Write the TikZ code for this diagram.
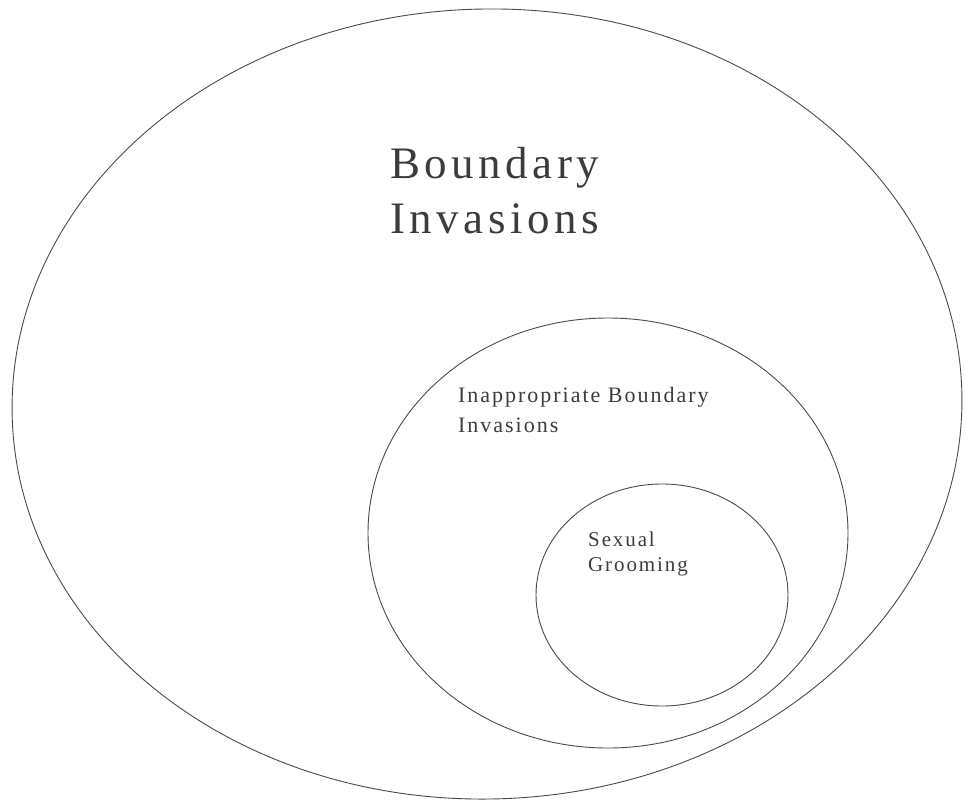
\documentclass[tikz,border=0pt]{standalone}
\usepackage{fontspec}
\setmainfont{Liberation Serif}
\newfontfamily\bigfont[LetterSpace=10]{Liberation Serif}
\newfontfamily\smallfont[LetterSpace=9]{Liberation Serif}
\usetikzlibrary{shapes.geometric}
\definecolor{inkline}{HTML}{4A4A4A}
\definecolor{inktext}{HTML}{3C3C3C}
\tikzset{
  ring/.style={ellipse, draw=inkline, line width=0.9pt, inner sep=0pt},
  label/.style={anchor=north west, inner sep=0pt, align=left, text=inktext}
}
\begin{document}
\begin{tikzpicture}[x=1pt,y=-1pt]
\useasboundingbox (0,0) rectangle (972,804);
\node[ring, minimum width=950pt, minimum height=790pt, rotate=1.5] (outer) at (487,404) {};
\node[ring, minimum width=480pt, minimum height=430pt] (middle) at (608,533) {};
\node[ring, minimum width=252pt, minimum height=222pt] (inner) at (662,595) {};
\node[label, font=\bigfont\fontsize{45}{55}\selectfont] (outerlabel) at (390,147) {Boundary\\Invasions};
\node[label, font=\smallfont\fontsize{22}{30}\selectfont] (middlelabel) at (458,387) {Inappropriate Boundary\\Invasions};
\node[label, font=\smallfont\fontsize{21}{25}\selectfont] (innerlabel) at (588,532) {Sexual\\Grooming};
\end{tikzpicture}
\end{document}
